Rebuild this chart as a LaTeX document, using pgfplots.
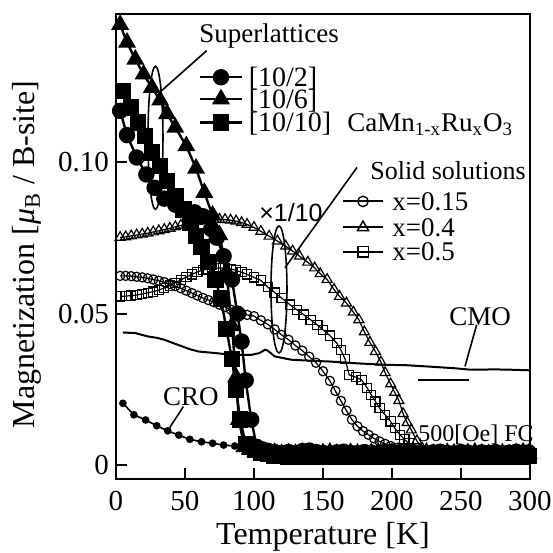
\documentclass[border=0pt]{standalone}
\usepackage{fontspec}
\setmainfont{Liberation Serif}
\newfontfamily\sansf{Liberation Sans}
\usepackage{pgfplots}
\pgfplotsset{compat=1.18}
\begin{document}
\begin{tikzpicture}
\useasboundingbox (-58pt,-37pt) rectangle (218.5pt,239.5pt);
\begin{axis}[
  at={(0pt,0pt)}, anchor=south west,
  scale only axis, width=207pt, height=232.5pt,
  xmin=0, xmax=300, ymin=-0.0046, ymax=0.149,
  xtick={0,50,...,300}, ytick={0,0.05,0.10}, yticklabels={0,0.05,0.10},
  xtick pos=bottom, ytick pos=left, tick align=inside,
  major tick length=5.5pt,
  axis line style={line width=1.2pt},
  every tick/.style={line width=1pt, black},
  /pgf/number format/assume math mode=true,
  ticklabel style={font=\fontsize{14.5}{16}\selectfont},
  xticklabel style={yshift=-2.5pt},
  xlabel={Temperature [K]},
  ylabel={Magnetization [{\itshape μ}\textsubscript{B} / B-site]},
  label style={font=\fontsize{16}{18}\selectfont},
  xlabel style={at={(axis description cs:0.5,-0.124)}, anchor=center},
  ylabel style={at={(axis description cs:-0.215,0.483)}, anchor=center, rotate=0},
  clip mode=individual,
  ss/.style={black, line width=0.6pt, mark options={solid, line width=0.6pt}},
  sl/.style={black, line width=1.2pt, mark options={solid}},
]
% ---------------- Solid solutions (x 1/10) ----------------
% x=0.4 open triangles
\addplot[ss, mark=triangle, mark size=2.9pt] coordinates {
(3,0.0752) (7,0.0754) (11,0.0757) (15,0.0760) (19,0.0763) (23,0.0766) (27,0.0770) (31,0.0774) (35,0.0778) (39,0.0782) (43,0.0787) (47,0.0792) (51,0.0797) (55,0.0801) (59,0.0805) (63,0.0808) (67,0.0810) (71,0.0811) (75,0.0812) (79,0.0811) (83,0.0809) (87,0.0806) (91,0.0801) (95,0.0795) (100,0.0785) (105,0.0772) (111,0.0756) (117,0.0740) (123,0.0723) (128,0.0707) (133,0.0690) (139,0.0670) (144,0.0651) (148,0.0632) (153,0.0613) (158,0.0580) (162,0.0557) (167,0.0535) (172,0.0505) (176,0.0480) (180,0.0440) (184,0.0405) (188,0.0375) (192,0.0340) (195,0.0305) (199,0.0268) (202,0.0240) (205,0.0213) (208,0.0170) (211,0.0140) (214,0.0116) (218,0.0080) (222,0.0055) (226,0.0040) (230,0.0035)
};
% x=0.15 open circles
\addplot[ss, mark=o, mark size=2.3pt] coordinates {
(3,0.0625) (7,0.0625) (11,0.0624) (15,0.0622) (19,0.0620) (23,0.0617) (27,0.0613) (31,0.0609) (35,0.0604) (39,0.0598) (43,0.0591) (47,0.0584) (51,0.0576) (55,0.0568) (59,0.0560) (63,0.0552) (67,0.0545) (71,0.0538) (75,0.0530) (79,0.0522) (83,0.0514) (87,0.0506) (91,0.0500) (95,0.0496) (100,0.0492) (105,0.0478) (110,0.0465) (115,0.0448) (120,0.0430) (125,0.0414) (130,0.0395) (135,0.0378) (140,0.0358) (145,0.0338) (150,0.0310) (155,0.0278) (159,0.0245) (163,0.0212) (167,0.0180) (171,0.0150) (175,0.0128) (179,0.0112) (183,0.0100) (187,0.0088) (191,0.0078) (195,0.0070) (199,0.0063) (204,0.0057) (210,0.0052) (215,0.0050)
};
% x=0.5 open squares
\addplot[ss, mark=square, mark size=2.3pt] coordinates {
(3,0.0557) (7,0.0558) (11,0.0560) (15,0.0562) (19,0.0565) (23,0.0569) (27,0.0573) (31,0.0578) (35,0.0585) (39,0.0593) (43,0.0602) (47,0.0612) (51,0.0621) (55,0.0630) (59,0.0638) (63,0.0644) (67,0.0648) (71,0.0650) (75,0.0651) (79,0.0650) (83,0.0648) (87,0.0643) (91,0.0637) (95,0.0630) (100,0.0620) (105,0.0610) (110,0.0588) (115,0.0570) (120,0.0552) (126,0.0530) (131,0.0513) (136,0.0497) (141,0.0480) (146,0.0462) (150,0.0447) (155,0.0428) (160,0.0403) (163,0.0380) (166,0.0350) (169,0.0298) (174,0.0290) (178,0.0281) (182,0.0255) (185,0.0232) (188,0.0210) (191,0.0188) (195,0.0166) (199,0.0144) (202,0.0122) (206,0.0099) (209,0.0085) (212,0.0072) (216,0.0055) (220,0.0045)
};
% ---------------- CMO ----------------
\addplot[black, line width=1pt, no marks] coordinates {
(5,0.0438) (14,0.0436) (23,0.0425) (30,0.0420) (35,0.0414) (42,0.0402) (48,0.0392) (54,0.0382) (60,0.0375) (72,0.0370) (84,0.0364) (98,0.0364) (104,0.0370) (108,0.0381) (110,0.0378) (115,0.0359) (127,0.0348) (140,0.0345) (155,0.0342) (175,0.0336) (196,0.0331) (210,0.0330) (228,0.0325) (245,0.0320) (257,0.0315) (275,0.0316) (286,0.0315) (300,0.0313)
};
\addplot[black, line width=1pt, no marks] coordinates {(219,0.0281) (256,0.0281)};
% ---------------- CRO ----------------
\addplot[black, line width=0.8pt, mark=*, mark size=1.5pt] coordinates {
(5,0.0204) (13,0.0166) (21.5,0.0149) (29.5,0.0130) (37.5,0.0113) (45.5,0.0099) (53.5,0.0085) (62,0.0077) (70,0.0072) (78,0.0066) (86,0.0063) (94,0.0058) (102,0.0055)
};
% ---------------- Superlattices ----------------
% [10/10] squares
\addplot[sl, mark=square*, mark size=3.5pt] coordinates {
(5,0.1236) (11,0.1181) (16,0.1131) (21,0.1087) (26,0.1032) (32,0.0988) (37,0.0938) (43,0.0888) (49,0.0844) (54,0.0800) (58,0.0756) (62,0.0720) (67,0.0670) (72,0.0613) (76,0.0550) (80,0.0450) (84,0.0350) (87,0.0250) (90,0.0150) (94,0.0070) (97,0.0060) (101,0.0050) (105,0.0042) (110,0.0036) (115,0.0032) (120,0.0030) (125,0.0028) (130,0.0029) (135,0.0027) (140,0.0030) (145,0.0028) (150,0.0027) (155,0.0029) (160,0.0028) (165,0.0030) (170,0.0027) (175,0.0028) (180,0.0029) (185,0.0027) (190,0.0030) (195,0.0028) (200,0.0027) (205,0.0029) (210,0.0028) (215,0.0030) (220,0.0027) (225,0.0028) (230,0.0029) (235,0.0027) (240,0.0030) (245,0.0028) (250,0.0027) (255,0.0029) (260,0.0028) (265,0.0030) (270,0.0027) (275,0.0028) (280,0.0029) (285,0.0027) (290,0.0030) (295,0.0028) (299,0.0029)
};
% [10/2] circles
\addplot[sl, mark=*, mark size=3.5pt] coordinates {
(3,0.1170) (8,0.1090) (15,0.1016) (22,0.0960) (28,0.0916) (35,0.0880) (43,0.0860) (50,0.0845) (57,0.0835) (63,0.0822) (69,0.0780) (73,0.0751) (78,0.0690) (84,0.0613) (88,0.0500) (91,0.0408) (94,0.0280) (98,0.0150) (102,0.0060) (106,0.0052) (110,0.0047) (115,0.0043) (120,0.0040) (125,0.0043) (130,0.0039) (135,0.0046) (140,0.0048) (145,0.0043) (150,0.0040) (155,0.0038) (160,0.0042) (165,0.0044) (170,0.0040) (175,0.0039) (180,0.0043) (185,0.0041) (190,0.0038) (195,0.0042) (200,0.0045) (205,0.0040) (210,0.0039) (215,0.0043) (220,0.0041) (225,0.0038) (230,0.0042) (235,0.0044) (240,0.0040) (245,0.0039) (250,0.0043) (255,0.0041) (260,0.0038) (265,0.0042) (270,0.0040) (275,0.0043) (280,0.0039) (285,0.0041) (290,0.0044) (295,0.0040) (299,0.0042)
};
% [10/6] triangles
\addplot[sl, mark=triangle*, mark size=4pt] coordinates {
(3,0.1455) (8,0.1396) (14,0.1340) (20,0.1291) (26,0.1247) (32,0.1205) (37,0.1160) (43,0.1115) (51,0.1054) (58,0.0980) (64,0.0900) (70,0.0825) (75,0.0760) (80,0.0640) (84,0.0460) (87,0.0290) (89,0.0150) (93,0.0060) (97,0.0052) (101,0.0045) (105,0.0042) (110,0.0039) (115,0.0041) (120,0.0037) (125,0.0040) (130,0.0038) (135,0.0042) (140,0.0039) (145,0.0036) (150,0.0040) (155,0.0042) (160,0.0038) (165,0.0037) (170,0.0041) (175,0.0039) (180,0.0036) (185,0.0040) (190,0.0042) (195,0.0038) (200,0.0037) (205,0.0041) (210,0.0039) (215,0.0036) (220,0.0040) (225,0.0042) (230,0.0038) (235,0.0037) (240,0.0041) (245,0.0039) (250,0.0036) (255,0.0040) (260,0.0042) (265,0.0038) (270,0.0037) (275,0.0041) (280,0.0039) (285,0.0036) (290,0.0040) (295,0.0042) (299,0.0038)
};
% ---------------- legend samples ----------------
\addplot[sl, mark=*, mark size=3.5pt, mark indices={2}] coordinates {(60.9,0.1281) (76.1,0.1281) (91.3,0.1281)};
\addplot[sl, mark=triangle*, mark size=4pt, mark indices={2}] coordinates {(60.9,0.1209) (76.1,0.1209) (91.3,0.1209)};
\addplot[sl, mark=square*, mark size=3.5pt, mark indices={2}] coordinates {(60.9,0.1132) (76.1,0.1132) (91.3,0.1132)};
\addplot[black, line width=1pt, mark=o, mark size=2.6pt, mark options={solid,line width=0.7pt}, mark indices={2}] coordinates {(164.5,0.0871) (179,0.0871) (193.5,0.0871)};
\addplot[black, line width=1pt, mark=triangle, mark size=3.2pt, mark options={solid,line width=0.7pt}, mark indices={2}] coordinates {(164.5,0.0785) (179,0.0785) (193.5,0.0785)};
\addplot[black, line width=1pt, mark=square, mark size=2.6pt, mark options={solid,line width=0.7pt}, mark indices={2}] coordinates {(164.5,0.0705) (179,0.0705) (193.5,0.0705)};
% ---------------- annotations ----------------
\node[anchor=base west, inner sep=0pt, font=\fontsize{13.5}{15}\selectfont] at (axis cs:60.1,0.1397) {Superlattices};
\node[anchor=base west, inner sep=0pt, font=\fontsize{14}{15}\selectfont] at (axis cs:96,0.1252) {[10/2]};
\node[anchor=base west, inner sep=0pt, font=\fontsize{14}{15}\selectfont] at (axis cs:96,0.1179) {[10/6]};
\node[anchor=base west, inner sep=0pt, font=\fontsize{14}{15}\selectfont] at (axis cs:96,0.1103) {[10/10]};
\node[anchor=base west, inner sep=0pt, font=\fontsize{13.5}{15}\selectfont] at (axis cs:167.4,0.1103) {CaMn\textsubscript{1-x}Ru\textsubscript{x}O\textsubscript{3}};
\node[anchor=base west, inner sep=0pt, font=\fontsize{13}{15}\selectfont] at (axis cs:184.1,0.0942) {Solid solutions};
\node[anchor=base west, inner sep=0pt, font=\fontsize{13.5}{15}\selectfont] at (axis cs:200,0.0842) {x=0.15};
\node[anchor=base west, inner sep=0pt, font=\fontsize{13.5}{15}\selectfont] at (axis cs:200,0.0756) {x=0.4};
\node[anchor=base west, inner sep=0pt, font=\fontsize{13.5}{15}\selectfont] at (axis cs:200,0.0677) {x=0.5};
\node[anchor=base west, inner sep=0pt, font=\sansf\fontsize{12.5}{14}\selectfont] at (axis cs:103.6,0.0805) {×1/10};
\node[anchor=center, inner sep=0pt, font=\fontsize{13.5}{15}\selectfont] at (axis cs:54.3,0.0226) {CRO};
\node[anchor=center, inner sep=0pt, font=\fontsize{13.5}{15}\selectfont] at (axis cs:263.8,0.0490) {CMO};
\node[anchor=base west, inner sep=0pt, font=\fontsize{12}{14}\selectfont] at (axis cs:218.8,0.0079) {500[Oe] FC};
\draw[line width=0.8pt] (axis cs:65.7,0.1369) -- (axis cs:31.9,0.1232);
\draw[line width=0.8pt] (axis cs:174.6,0.0983) -- (axis cs:122.5,0.0652);
\draw[line width=0.8pt] (axis cs:48.8,0.0193) -- (axis cs:37.8,0.0116);
\draw[line width=0.8pt] (axis cs:261.4,0.0464) -- (axis cs:252.9,0.0326);
\draw[line width=0.8pt] (axis cs:28.6,0.1081) ellipse [x radius=3.75pt, y radius=35.75pt];
\draw[line width=0.8pt] (axis cs:118.1,0.0580) ellipse [x radius=4pt, y radius=31.75pt];
\end{axis}
\end{tikzpicture}
\end{document}
